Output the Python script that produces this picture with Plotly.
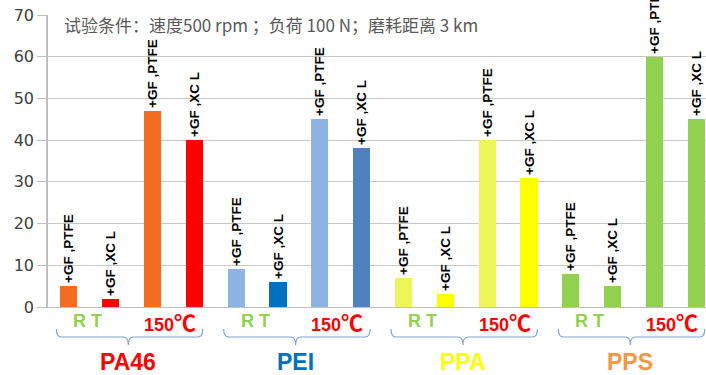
import plotly.graph_objects as go

materials = ["PA46", "PEI", "PPA", "PPS"]
fillers = ["+GF ,PTFE", "+GF ,XC L", "+GF ,PTFE", "+GF ,XC L"]
temps = ["R T", "150", "℃"]
pa46 = [5, 2, 47, 40]
pei = [9, 6, 45, 38]
ppa = [7, 3, 40, 31]
pps = [8, 5, 60, 45]
yticks = [0, 10, 20, 30, 40, 50, 60, 70]
note = "试验条件：速度500 rpm ；负荷 100 N；磨耗距离 3 km"

bar_colors = [
    "#F36E21", "#FF0000", "#F36E21", "#FF0000",
    "#8DB4E2", "#0070C0", "#8DB4E2", "#4F81BD",
    "#EEF558", "#FFFF00", "#EEF558", "#FFFF00",
    "#92D050", "#92D050", "#92D050", "#92D050",
]
mat_colors = ["#FF0000", "#0070C0", "#FFFF00", "#F79646"]

values = pa46 + pei + ppa + pps
labels = fillers * 4
xs = list(range(len(values)))

fig = go.Figure()
fig.add_trace(go.Bar(
    x=xs, y=values, width=0.41,
    marker=dict(color=bar_colors, line=dict(width=0)),
    text=labels, textposition="outside", textangle=-90,
    textfont=dict(family="Liberation Sans", size=13.5, color="#000000", weight="bold"),
    constraintext="none", cliponaxis=False,
    hoverinfo="skip",
))

annotations = []
shapes = []
y_top, y_mid, y_tip = -0.0753, -0.1027, -0.1301
deg = temps[1] + "<span style='font-family:Noto Sans CJK SC;font-size:22px'>" + temps[2] + "</span>"
for g, m in enumerate(materials):
    base = g * 4
    annotations.append(dict(x=base + 0.45, y=-0.048, xref="x", yref="paper", text="<b>" + temps[0] + "</b>",
                            showarrow=False, font=dict(family="Liberation Sans", size=18, color="#92D050"),
                            xanchor="center", yanchor="middle"))
    annotations.append(dict(x=base + 2.42, y=-0.048, xref="x", yref="paper", text="<b>" + deg + "</b>",
                            showarrow=False, font=dict(family="Liberation Sans", size=18, color="#FF0000"),
                            xanchor="center", yanchor="middle"))
    annotations.append(dict(x=base + 1.42, y=-0.188, xref="x", yref="paper", text="<b>" + m + "</b>",
                            showarrow=False, font=dict(family="Liberation Sans", size=23, color=mat_colors[g]),
                            xanchor="center", yanchor="middle"))
    x0, x1, xc, d = base - 0.3, base + 3.2, base + 1.42, 0.12
    path = (f"M {x0},{y_top} Q {x0},{y_mid} {x0 + d},{y_mid} L {xc - d},{y_mid} "
            f"Q {xc},{y_mid} {xc},{y_tip} Q {xc},{y_mid} {xc + d},{y_mid} "
            f"L {x1 - d},{y_mid} Q {x1},{y_mid} {x1},{y_top}")
    shapes.append(dict(type="path", path=path, xref="x", yref="paper",
                       line=dict(color="#7EA3D0", width=1.2)))

plot_w, plot_h = 706 - 48, 375 - 15 - 68
annotations.append(dict(x=(62 - 48) / plot_w, y=(307 - 24) / plot_h, xref="paper", yref="paper",
                        text=note, showarrow=False,
                        font=dict(family="Noto Sans CJK SC", size=17, color="#595959"),
                        xanchor="left", yanchor="middle"))

fig.update_layout(
    width=706, height=375,
    margin=dict(l=48, r=0, t=15, b=68),
    paper_bgcolor="white", plot_bgcolor="white",
    showlegend=False,
    bargap=0,
    annotations=annotations,
    shapes=shapes,
    xaxis=dict(range=[-0.5, 15.23], showticklabels=False, showgrid=False, zeroline=False,
               showline=True, linecolor="#BFBFBF", ticks=""),
    yaxis=dict(range=[0, 70], tickvals=yticks, showgrid=True, gridcolor="#C8C8C8", gridwidth=1,
               zeroline=False, showline=True, linecolor="#BFBFBF", linewidth=1.5,
               ticks="outside", ticklen=9, tickcolor="#BFBFBF",
               tickfont=dict(family="DejaVu Sans", size=16, color="#404040")),
)

fig.write_html("out.html", config={"displayModeBar": False},
               post_script="document.body.style.margin='0px';document.body.style.overflow='hidden';")
